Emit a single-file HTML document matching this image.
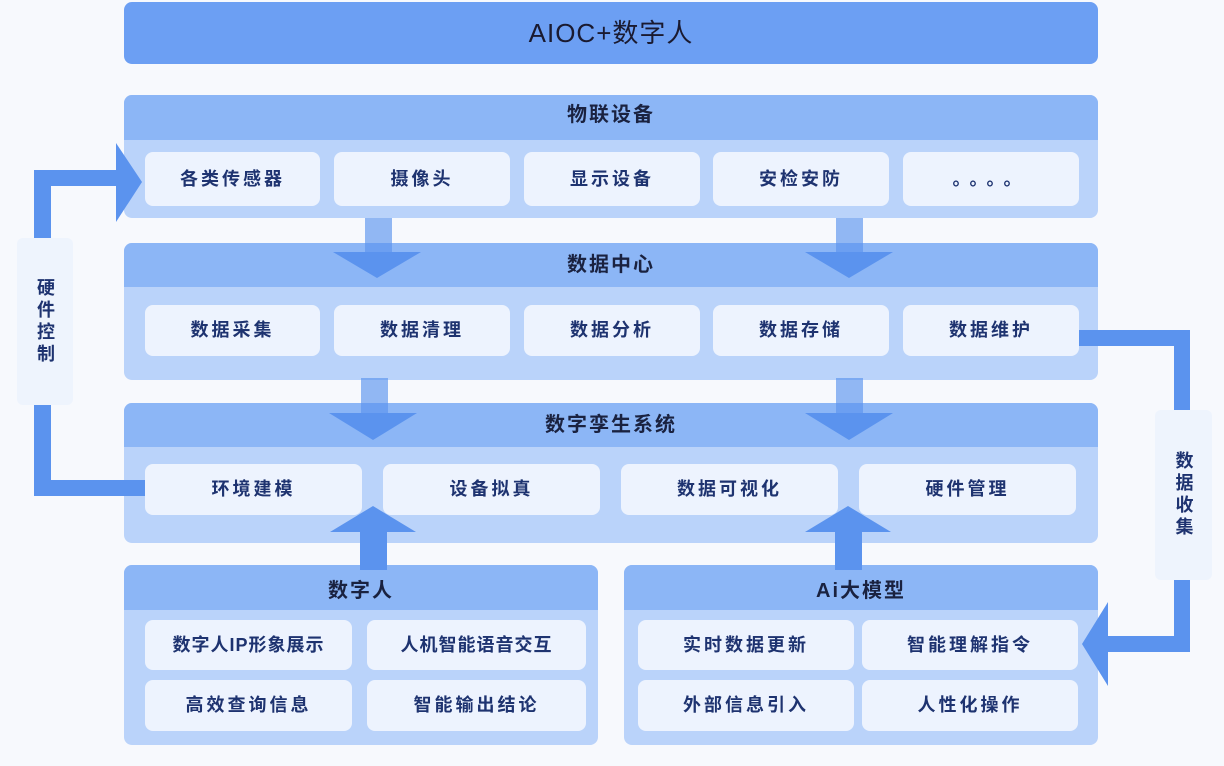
<!DOCTYPE html>
<html><head><meta charset="utf-8"><style>
body{margin:0;width:1224px;height:766px;background:#f7f9fd;position:relative;overflow:hidden;font-family:"Liberation Sans","Noto Sans CJK SC",sans-serif}
.a{position:absolute;box-sizing:border-box}
.panel{background:#bad3fa;border-radius:8px;overflow:hidden}
.hd{position:absolute;left:0;right:0;top:0;background:#8cb6f6;color:#1a2240;font-size:20px;font-weight:bold;text-align:center;letter-spacing:2px}
.bx{background:#edf3fe;border-radius:8px;color:#1e3370;font-size:18px;font-weight:bold;text-align:center;letter-spacing:3px}
.v{background:#eef4fd;border-radius:6px;color:#1e3370;font-size:18px;font-weight:bold;text-align:center;writing-mode:vertical-rl;display:flex;align-items:center;justify-content:center;letter-spacing:4px}
</style></head><body>
<div class="a" style="left:124px;top:2px;width:974px;height:62px;background:#6c9ff3;border-radius:8px;color:#1a1a30;font-size:26px;text-align:center;line-height:62px;letter-spacing:1px">AIOC+数字人</div>

<div class="a panel" style="left:124px;top:95px;width:974px;height:123px"><div class="hd" style="height:45px;line-height:40px">物联设备</div></div>
<div class="a bx" style="left:145px;top:152px;width:175px;height:54px;line-height:54px">各类传感器</div>
<div class="a bx" style="left:334px;top:152px;width:176px;height:54px;line-height:54px">摄像头</div>
<div class="a bx" style="left:524px;top:152px;width:176px;height:54px;line-height:54px">显示设备</div>
<div class="a bx" style="left:713px;top:152px;width:176px;height:54px;line-height:54px">安检安防</div>
<div class="a bx" style="left:903px;top:152px;width:176px;height:54px;line-height:54px;letter-spacing:8px">。。。。</div>

<div class="a panel" style="left:124px;top:243px;width:974px;height:137px"><div class="hd" style="height:44px;line-height:44px">数据中心</div></div>
<div class="a bx" style="left:145px;top:305px;width:175px;height:51px;line-height:51px">数据采集</div>
<div class="a bx" style="left:334px;top:305px;width:176px;height:51px;line-height:51px">数据清理</div>
<div class="a bx" style="left:524px;top:305px;width:176px;height:51px;line-height:51px">数据分析</div>
<div class="a bx" style="left:713px;top:305px;width:176px;height:51px;line-height:51px">数据存储</div>
<div class="a bx" style="left:903px;top:305px;width:176px;height:51px;line-height:51px">数据维护</div>

<div class="a panel" style="left:124px;top:403px;width:974px;height:140px"><div class="hd" style="height:44px;line-height:44px">数字孪生系统</div></div>
<div class="a bx" style="left:145px;top:464px;width:217px;height:51px;line-height:51px">环境建模</div>
<div class="a bx" style="left:383px;top:464px;width:217px;height:51px;line-height:51px">设备拟真</div>
<div class="a bx" style="left:621px;top:464px;width:217px;height:51px;line-height:51px">数据可视化</div>
<div class="a bx" style="left:859px;top:464px;width:217px;height:51px;line-height:51px">硬件管理</div>

<div class="a panel" style="left:124px;top:565px;width:474px;height:180px"><div class="hd" style="height:45px;line-height:52px">数字人</div></div>
<div class="a bx" style="left:145px;top:620px;width:207px;height:50px;line-height:50px;letter-spacing:1px">数字人IP形象展示</div>
<div class="a bx" style="left:367px;top:620px;width:219px;height:50px;line-height:50px;letter-spacing:1px">人机智能语音交互</div>
<div class="a bx" style="left:145px;top:680px;width:207px;height:51px;line-height:51px">高效查询信息</div>
<div class="a bx" style="left:367px;top:680px;width:219px;height:51px;line-height:51px">智能输出结论</div>

<div class="a panel" style="left:624px;top:565px;width:474px;height:180px"><div class="hd" style="height:45px;line-height:52px">Ai大模型</div></div>
<div class="a bx" style="left:638px;top:620px;width:216px;height:50px;line-height:50px">实时数据更新</div>
<div class="a bx" style="left:862px;top:620px;width:216px;height:50px;line-height:50px">智能理解指令</div>
<div class="a bx" style="left:638px;top:680px;width:216px;height:51px;line-height:51px">外部信息引入</div>
<div class="a bx" style="left:862px;top:680px;width:216px;height:51px;line-height:51px">人性化操作</div>

<svg class="a" style="left:0;top:0" width="1224" height="766">
<g fill="#5b93ee">
<rect x="34" y="170" width="17" height="326"/>
<rect x="34" y="480" width="111" height="16"/>
<rect x="34" y="170" width="90" height="16"/>
<polygon points="116,143 142,182 116,222"/>
<rect x="1079" y="330" width="111" height="16"/>
<rect x="1174" y="330" width="16" height="322"/>
<rect x="1100" y="636" width="90" height="16"/>
<polygon points="1108,602 1082,644 1108,686"/>
<rect x="365" y="218" width="27" height="34" opacity=".65"/>
<polygon points="333,252 421,252 377,278"/>
<rect x="836" y="218" width="27" height="34" opacity=".65"/>
<polygon points="805,252 893,252 849,278"/>
<rect x="361" y="378" width="27" height="35" opacity=".65"/>
<polygon points="329,413 417,413 373,440"/>
<rect x="836" y="378" width="27" height="35" opacity=".65"/>
<polygon points="805,413 893,413 849,440"/>
<rect x="360" y="530" width="27" height="40"/>
<polygon points="330,532 416,532 373,506"/>
<rect x="835" y="530" width="27" height="40"/>
<polygon points="805,532 891,532 848,506"/>
</g>
</svg>
<div class="a v" style="left:17px;top:238px;width:56px;height:167px">硬件控制</div>
<div class="a v" style="left:1155px;top:410px;width:57px;height:170px">数据收集</div>
</body></html>
